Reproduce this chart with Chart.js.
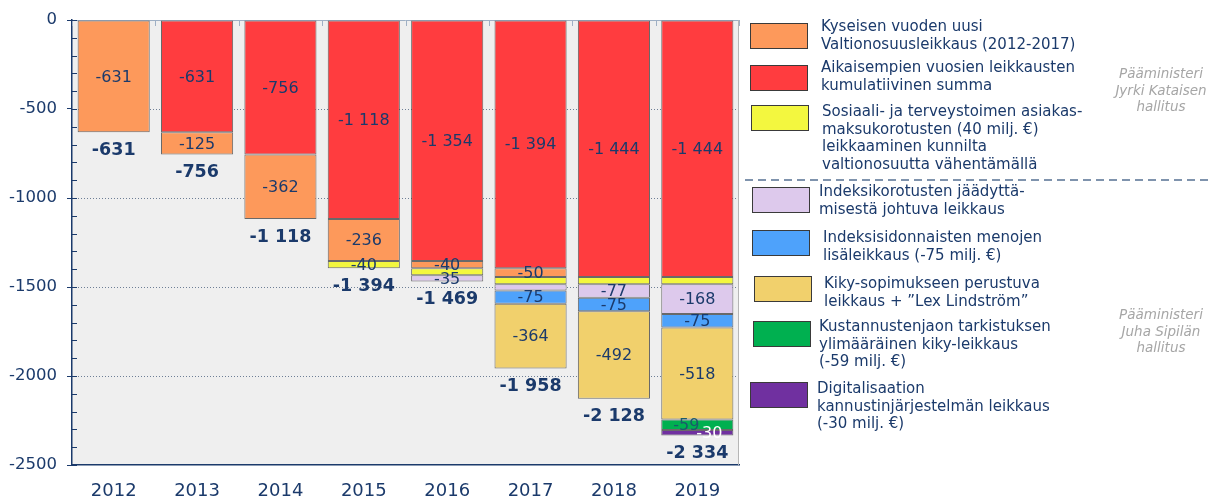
<!DOCTYPE html>
<html>
<head>
<meta charset="utf-8">
<script src="https://cdn.jsdelivr.net/npm/chart.js@4/dist/chart.umd.min.js"></script>
<style>
  body { margin: 0; background: #fff; width: 1210px; height: 499px; overflow: hidden; position: relative;
         font-family: "DejaVu Sans", Verdana, sans-serif; }
  #wrap { position: absolute; left: 0; top: 0; width: 1210px; height: 499px; }
  .box { position: absolute; width: 56px; height: 24px; border: 1.5px solid #3a3a3a; }
  .txt { position: absolute; font-size: 15px; line-height: 17.6px; color: #1b3a6b; white-space: nowrap; }
  .side { position: absolute; width: 140px; text-align: center; font-size: 13.5px; line-height: 16.5px;
          font-style: italic; color: #a6a6a6; }
  .sep { position: absolute; left: 745px; top: 179px; width: 465px; height: 1.5px;
         background: repeating-linear-gradient(to right, #7f93ad 0 8px, transparent 8px 13px); }
</style>
</head>
<body>
<div id="wrap"><canvas id="chart_cuts"></canvas></div>
<div id="legend"></div>
<div class="sep"></div>
<div class="side" style="left:1091px; top:65px">Pääministeri<br>Jyrki Kataisen<br>hallitus</div>
<div class="side" style="left:1091px; top:306px">Pääministeri<br>Juha Sipilän<br>hallitus</div>
<script>
// categories
var years = ['2012', '2013', '2014', '2015', '2016', '2017', '2018', '2019'];

// series values (milj. €), top of stack first
var prevCumulative = [null, -631, -756, -1118, -1354, -1394, -1444, -1444];
var newCut        = [-631, -125, -362, -236, -40, -50, null, null];
var feeCut        = [null, null, null, -40, -40, -40, -40, -40];
var indexFreeze   = [null, null, null, null, -35, -35, -77, -168];
var indexExtra    = [null, null, null, null, null, -75, -75, -75];
var kikyCut       = [null, null, null, null, null, -364, -492, -518];
var costSplitCut  = [null, null, null, null, null, null, null, -59];
var digiCut       = [null, null, null, null, null, null, null, -30];

// y tick labels
var yTickLabels = [0, -500, -1000, -1500, -2000, -2500];

// legend names
var nameNewCut = ['Kyseisen vuoden uusi', 'Valtionosuusleikkaus (2012-2017)'];
var namePrev = ['Aikaisempien vuosien leikkausten', 'kumulatiivinen summa'];
var nameFee = ['Sosiaali- ja terveystoimen asiakas-', 'maksukorotusten (40 milj. €)', 'leikkaaminen kunnilta', 'valtionosuutta vähentämällä'];
var nameFreeze = ['Indeksikorotusten jäädyttä-', 'misestä johtuva leikkaus'];
var nameExtra = ['Indeksisidonnaisten menojen', 'lisäleikkaus (-75 milj. €)'];
var nameKiky = ['Kiky-sopimukseen perustuva', 'leikkaus + ”Lex Lindström”'];
var nameCost = ['Kustannustenjaon tarkistuksen', 'ylimääräinen kiky-leikkaus', '(-59 milj. €)'];
var nameDigi = ['Digitalisaation', 'kannustinjärjestelmän leikkaus', '(-30 milj. €)'];

// segments drawn without a value label
var unlabeled = { fee: ['2016', '2017', '2018', '2019'], freeze: ['2017'] };

var NAVY = '#1b3a6b';
var EDGE = 'rgba(60,60,60,0.75)';

function fmt(v) {
  var s = Math.abs(v).toString().replace(/\B(?=(\d{3})+(?!\d))/g, ' ');
  return (v < 0 ? '-' : '') + s;
}

function ds(key, data, color, labelColor, dx) {
  return {
    key: key, data: data, backgroundColor: color, borderColor: EDGE, borderWidth: 1,
    borderSkipped: false, barPercentage: 0.865, categoryPercentage: 1,
    labelColor: labelColor || NAVY, labelDx: dx || 0
  };
}

var datasets = [
  ds('prev', prevCumulative, '#ff3c3f'),
  ds('new', newCut, '#fd995b'),
  ds('fee', feeCut, '#f3f73f'),
  ds('freeze', indexFreeze, '#ddc9ec'),
  ds('extra', indexExtra, '#4ea2fb'),
  ds('kiky', kikyCut, '#f1d06c'),
  ds('cost', costSplitCut, '#00b050', '#1b5a6b', -11),
  ds('digi', digiCut, '#7030a0', '#ffffff', 12)
];

// legend (html)
var legendItems = [
  { name: nameNewCut, color: '#fd995b', bx: 750, by: 23, tx: 821, ty: 18 },
  { name: namePrev, color: '#ff3c3f', bx: 750, by: 65, tx: 821, ty: 59 },
  { name: nameFee, color: '#f3f73f', bx: 751, by: 105, tx: 822, ty: 103 },
  { name: nameFreeze, color: '#ddc9ec', bx: 752, by: 187, tx: 819, ty: 183 },
  { name: nameExtra, color: '#4ea2fb', bx: 752, by: 230, tx: 823, ty: 229 },
  { name: nameKiky, color: '#f1d06c', bx: 754, by: 276, tx: 824, ty: 275 },
  { name: nameCost, color: '#00b050', bx: 753, by: 321, tx: 819, ty: 318 },
  { name: nameDigi, color: '#7030a0', bx: 750, by: 382, tx: 817, ty: 380 }
];
var lg = document.getElementById('legend');
legendItems.forEach(function (it) {
  var b = document.createElement('div');
  b.className = 'box';
  b.style.left = it.bx + 'px'; b.style.top = it.by + 'px'; b.style.background = it.color;
  lg.appendChild(b);
  var t = document.createElement('div');
  t.className = 'txt';
  t.style.left = it.tx + 'px'; t.style.top = it.ty + 'px';
  t.innerHTML = it.name.join('<br>');
  lg.appendChild(t);
});

var plotDecor = {
  id: 'plotDecor',
  beforeDraw: function (chart) {
    var ctx = chart.ctx, a = chart.chartArea;
    ctx.save();
    ctx.fillStyle = 'white';
    ctx.fillRect(0, 0, chart.width, chart.height);
    ctx.fillStyle = '#efefef';
    ctx.fillRect(a.left, a.top, a.right - a.left, a.bottom - a.top);
    ctx.restore();
  },
  beforeDatasetsDraw: function (chart) {
    var ctx = chart.ctx, a = chart.chartArea, y = chart.scales.y;
    ctx.save();
    ctx.lineWidth = 1;
    // dotted gridlines at the labelled values
    ctx.strokeStyle = '#6e7f96';
    ctx.setLineDash([1, 2]);
    yTickLabels.forEach(function (v) {
      if (v === 0 || v === -2500) return;
      var py = Math.round(y.getPixelForValue(v)) + 0.5;
      ctx.beginPath(); ctx.moveTo(a.left, py); ctx.lineTo(a.right, py); ctx.stroke();
    });
    ctx.setLineDash([]);
    // top and right frame
    ctx.strokeStyle = '#9fb0c5';
    ctx.beginPath();
    ctx.moveTo(a.left, a.top + 0.5); ctx.lineTo(a.right, a.top + 0.5);
    ctx.stroke();
    ctx.strokeStyle = '#b5b5b5';
    ctx.beginPath();
    ctx.moveTo(a.right - 0.5, a.top); ctx.lineTo(a.right - 0.5, a.bottom);
    ctx.stroke();
    // category ticks along the top
    ctx.strokeStyle = '#9fb0c5';
    var w = (a.right - a.left) / years.length;
    for (var i = 0; i <= years.length; i++) {
      var xx = Math.round(a.left + i * w) + 0.5;
      ctx.beginPath(); ctx.moveTo(xx, a.top); ctx.lineTo(xx, a.top + 6); ctx.stroke();
    }
    // minor ticks inside the y axis
    ctx.strokeStyle = NAVY;
    for (var v = 0; v >= -2500; v -= 100) {
      var py2 = Math.round(y.getPixelForValue(v)) + 0.5;
      ctx.beginPath(); ctx.moveTo(a.left, py2); ctx.lineTo(a.left + 5, py2); ctx.stroke();
    }
    ctx.restore();
  },
  afterDatasetsDraw: function (chart) {
    var ctx = chart.ctx, ys = chart.scales.y;
    ctx.save();
    ctx.textAlign = 'center';
    ctx.textBaseline = 'middle';
    ctx.font = '16px "DejaVu Sans", Verdana, sans-serif';
    chart.data.datasets.forEach(function (d, di) {
      var meta = chart.getDatasetMeta(di);
      d.data.forEach(function (v, i) {
        if (v === null) return;
        var skip = unlabeled[d.key];
        if (skip && skip.indexOf(years[i]) >= 0) return;
        var el = meta.data[i];
        ctx.fillStyle = d.labelColor;
        ctx.fillText(fmt(v), el.x + d.labelDx, (el.y + el.base) / 2 + 1);
      });
    });
    // totals under each stack
    ctx.font = 'bold 17.5px "DejaVu Sans", Verdana, sans-serif';
    ctx.fillStyle = NAVY;
    years.forEach(function (yr, i) {
      var total = 0;
      chart.data.datasets.forEach(function (d) { total += d.data[i] || 0; });
      var px = chart.scales.x.getPixelForValue(i);
      ctx.fillText(fmt(total), px, ys.getPixelForValue(total) + 18);
    });
    ctx.restore();
  }
};

var chart_cuts = new Chart(document.getElementById('chart_cuts'), {
  type: 'bar',
  data: { labels: years, datasets: datasets },
  options: {
    animation: false,
    responsive: true,
    maintainAspectRatio: false,
    layout: { padding: { top: 20, right: 471, left: 0, bottom: 0 } },
    plugins: { legend: { display: false }, tooltip: { enabled: false } },
    scales: {
      x: {
        stacked: true,
        grid: { drawOnChartArea: false, drawTicks: false },
        border: { color: NAVY, width: 1.5 },
        ticks: { color: NAVY, font: { size: 18, family: '"DejaVu Sans", Verdana, sans-serif' }, padding: 16 },
        afterFit: function (s) { s.height = 34; }
      },
      y: {
        stacked: true,
        min: -2500,
        max: 0,
        border: { color: NAVY, width: 1.5 },
        grid: {
          drawOnChartArea: false,
          tickColor: function (c) {
            return c.tick && yTickLabels.indexOf(c.tick.value) >= 0 ? NAVY : 'transparent';
          },
          tickLength: 5
        },
        ticks: {
          stepSize: 100,
          autoSkip: false,
          color: NAVY,
          padding: 10,
          font: { size: 16.5, family: '"DejaVu Sans", Verdana, sans-serif' },
          callback: function (v) { return yTickLabels.indexOf(v) >= 0 ? String(v) : ''; }
        },
        afterFit: function (s) { s.width = 72; }
      }
    }
  },
  plugins: [plotDecor]
});
</script>
</body>
</html>
